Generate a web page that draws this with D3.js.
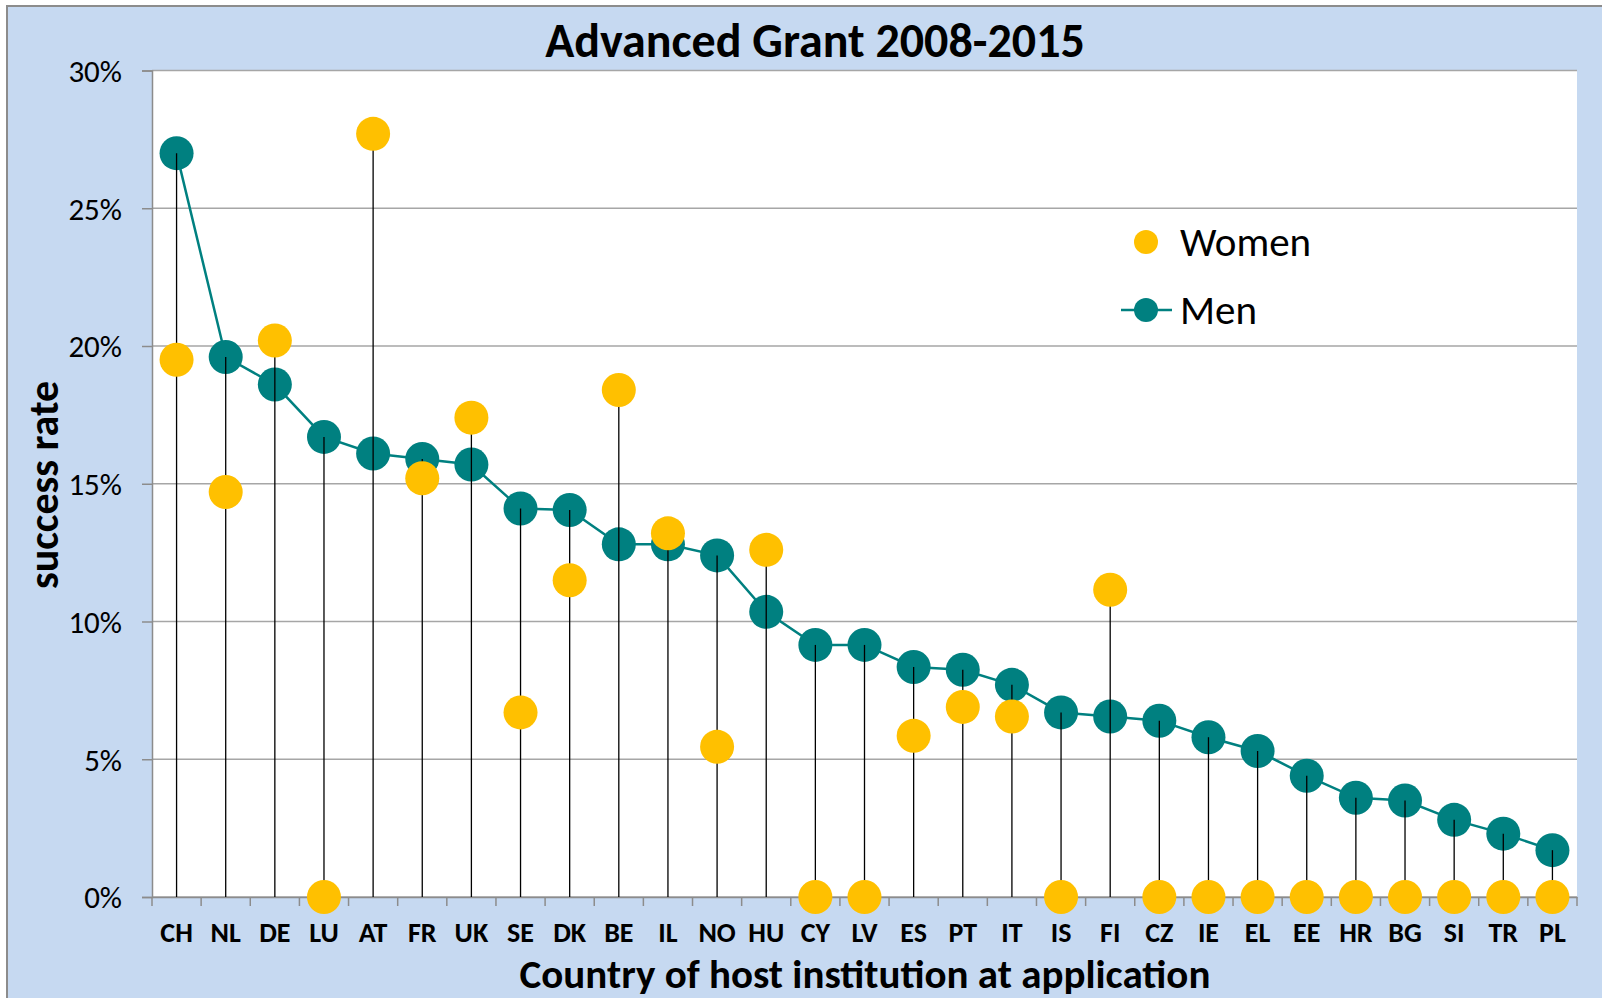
<!DOCTYPE html>
<html>
<head>
<meta charset="utf-8">
<script src="https://cdn.jsdelivr.net/npm/d3@7"></script>
<style>
  body { margin: 0; background: #fff; }
  svg { display: block; }
  text { font-family: Carlito, "Open Sans", "Noto Sans", sans-serif; }
</style>
</head>
<body>
<div id="chart"></div>
<script>
// success rates (%)
const countries = ["CH","NL","DE","LU","AT","FR","UK","SE","DK","BE","IL","NO","HU","CY","LV",
                   "ES","PT","IT","IS","FI","CZ","IE","EL","EE","HR","BG","SI","TR","PL"]
const men = [27.0,19.6,18.6,16.7,16.1,15.9,15.7,14.1,14.05,12.8,12.8,12.4,10.35,9.15,9.15,
             8.35,8.25,7.7,6.7,6.55,6.4,5.8,5.3,4.4,3.6,3.5,2.8,2.3,1.7]
const women = [19.5,14.7,20.2,0,27.7,15.2,17.4,6.7,11.5,18.4,13.2,5.45,12.6,0,0,
               5.85,6.9,6.55,0,11.15,0,0,0,0,0,0,0,0,0]
const yTicks = [0,5,10,15,20,25,30]

const svgWidth = 1602
let svgHeight = 998
const teal = "#008080"
const gold = "#FFC000"

const svg = d3.select("#chart").append("svg")
    .attr("width", svgWidth)
    .attr("height", svgHeight)

// outer chart area
svg.append("rect")
    .attr("x", 7).attr("y", 6)
    .attr("width", svgWidth).attr("height", svgHeight)
    .attr("fill", "#C6D9F1")
    .attr("stroke", "#8c8c8c")
    .attr("stroke-width", 2)

const plot = {left: 152, right: 1577, top: 70.5, bottom: 897}

svg.append("rect")
    .attr("x", plot.left).attr("y", plot.top)
    .attr("width", plot.right - plot.left).attr("height", plot.bottom - plot.top)
    .attr("fill", "white")

const x = d3.scaleBand().domain(countries).range([plot.left, plot.right])
const y = d3.scaleLinear().domain([0, 30]).range([plot.bottom, plot.top])
const cx = d => x(d) + x.bandwidth() / 2

// gridlines
svg.append("g")
    .selectAll("line")
    .data(yTicks)
    .enter()
    .append("line")
    .attr("x1", plot.left).attr("x2", plot.right)
    .attr("y1", d => y(d)).attr("y2", d => y(d))
    .attr("stroke", "#a6a6a6")
    .attr("stroke-width", 1.5)

// y axis
const yAxis = svg.append("g")
    .attr("transform", `translate(${plot.left},0)`)
    .call(d3.axisLeft(y).tickValues(yTicks).tickSize(10).tickPadding(20).tickFormat(d => d + "%"))
yAxis.select(".domain").attr("stroke", "#8c8c8c").attr("stroke-width", 1.5)
yAxis.selectAll(".tick line").attr("stroke", "#8c8c8c").attr("stroke-width", 1.5)
yAxis.selectAll(".tick text")
    .attr("fill", "#000")
    .style("font-size", "31px")
    .attr("dy", "0.35em")

// x axis: labels at band centres, ticks on band edges
const xAxis = svg.append("g")
    .attr("transform", `translate(0,${plot.bottom})`)
    .call(d3.axisBottom(x).tickSize(0).tickPadding(25))
xAxis.select(".domain").attr("stroke", "#8c8c8c").attr("stroke-width", 1.5)
xAxis.selectAll(".tick text")
    .attr("fill", "#000")
    .style("font-size", "28px")
    .style("font-weight", "bold")

svg.append("g")
    .selectAll("line")
    .data(countries.concat(["end"]))
    .enter()
    .append("line")
    .attr("x1", (d, i) => plot.left + i * x.bandwidth())
    .attr("x2", (d, i) => plot.left + i * x.bandwidth())
    .attr("y1", plot.bottom).attr("y2", plot.bottom + 9)
    .attr("stroke", "#8c8c8c")
    .attr("stroke-width", 1.5)

// men line + markers
const line = d3.line()
    .x((d, i) => cx(countries[i]))
    .y(d => y(d))

svg.append("path")
    .datum(men)
    .attr("d", line)
    .attr("fill", "none")
    .attr("stroke", teal)
    .attr("stroke-width", 2.5)

svg.append("g")
    .selectAll("circle")
    .data(men)
    .enter()
    .append("circle")
    .attr("cx", (d, i) => cx(countries[i]))
    .attr("cy", d => y(d))
    .attr("r", 17)
    .attr("fill", teal)

// drop lines
svg.append("g")
    .selectAll("line")
    .data(countries)
    .enter()
    .append("line")
    .attr("x1", d => cx(d)).attr("x2", d => cx(d))
    .attr("y1", (d, i) => y(Math.max(men[i], women[i])))
    .attr("y2", y(0))
    .attr("stroke", "#000")
    .attr("stroke-width", 1.3)

// women markers
svg.append("g")
    .selectAll("circle")
    .data(women)
    .enter()
    .append("circle")
    .attr("cx", (d, i) => cx(countries[i]))
    .attr("cy", d => y(d))
    .attr("r", 17)
    .attr("fill", gold)

// title
svg.append("text")
    .attr("x", 815).attr("y", 57)
    .attr("text-anchor", "middle")
    .style("font-size", "48px")
    .style("font-weight", "bold")
    .text("Advanced Grant 2008-2015")

// axis titles
svg.append("text")
    .attr("transform", "translate(58,485) rotate(-90)")
    .attr("text-anchor", "middle")
    .style("font-size", "42px")
    .style("font-weight", "bold")
    .text("success rate")

svg.append("text")
    .attr("x", 865).attr("y", 988)
    .attr("text-anchor", "middle")
    .style("font-size", "41px")
    .style("font-weight", "bold")
    .text("Country of host institution at application")

// legend
const legend = svg.append("g")
legend.append("circle")
    .attr("cx", 1146).attr("cy", 242).attr("r", 12)
    .attr("fill", gold)
legend.append("text")
    .attr("x", 1180).attr("y", 256)
    .style("font-size", "41px")
    .text("Women")
legend.append("line")
    .attr("x1", 1121).attr("x2", 1172)
    .attr("y1", 310).attr("y2", 310)
    .attr("stroke", teal).attr("stroke-width", 2.5)
legend.append("circle")
    .attr("cx", 1146).attr("cy", 310).attr("r", 12)
    .attr("fill", teal)
legend.append("text")
    .attr("x", 1180).attr("y", 324)
    .style("font-size", "41px")
    .text("Men")
</script>
</body>
</html>
